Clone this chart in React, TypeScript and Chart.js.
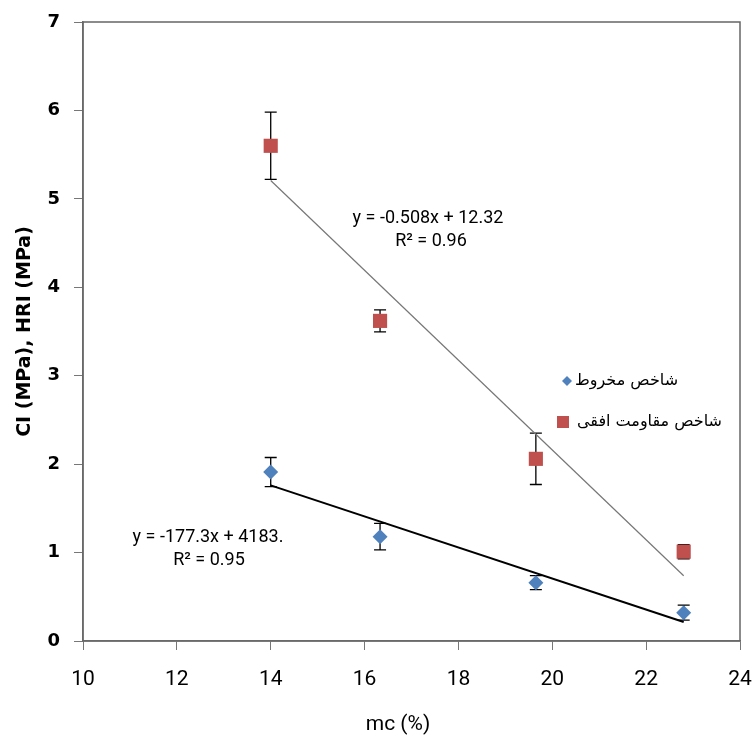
import React, { useEffect, useRef } from "react";
import { Chart, registerables } from "chart.js";

Chart.register(...registerables);

// ---- data ----
const mcValues = [14, 16.33, 19.65, 22.8];
const ciValues = [1.91, 1.18, 0.66, 0.32];
const ciErrors = [0.165, 0.15, 0.08, 0.085];
const hriValues = [5.6, 3.62, 2.06, 1.01];
const hriErrors = [0.38, 0.125, 0.29, 0.08];

const trendX = [14, 22.8];
const hriTrendY = [5.208, 0.738];
const ciTrendY = [1.76, 0.215];

const ciLabel = "شاخص مخروط";
const hriLabel = "شاخص مقاومت افقی";
const hriEquation = ["y = -0.508x + 12.32", "R² = 0.96"];
const ciEquation = ["y = -177.3x + 4183.", "R² = 0.95"];

const xTitle = "mc (%)";
const yTitle = "CI (MPa), HRI (MPa)";

const BLUE = "#4F81BD";
const RED = "#C0504D";
const NARROW = "'Roboto', sans-serif";

const errorBarPlugin = {
  id: "errorBars",
  beforeDatasetsDraw(chart: any) {
    const { ctx, scales } = chart;
    const x = scales.x;
    const y = scales.y;
    const sets = [
      { v: ciValues, e: ciErrors },
      { v: hriValues, e: hriErrors },
    ];
    ctx.save();
    ctx.strokeStyle = "#000";
    ctx.lineWidth = 1.3;
    sets.forEach((s) => {
      mcValues.forEach((mx, i) => {
        const px = x.getPixelForValue(mx);
        const top = y.getPixelForValue(s.v[i] + s.e[i]);
        const bot = y.getPixelForValue(s.v[i] - s.e[i]);
        ctx.beginPath();
        ctx.moveTo(px, top);
        ctx.lineTo(px, bot);
        ctx.moveTo(px - 6, top);
        ctx.lineTo(px + 6, top);
        ctx.moveTo(px - 6, bot);
        ctx.lineTo(px + 6, bot);
        ctx.stroke();
      });
    });
    ctx.restore();
  },
};

const decorPlugin = {
  id: "decor",
  afterDraw(chart: any) {
    const { ctx, chartArea } = chart;
    ctx.save();
    // frame
    ctx.strokeStyle = "#666";
    ctx.lineWidth = 1.5;
    ctx.strokeRect(chartArea.left, chartArea.top, chartArea.right - chartArea.left, chartArea.bottom - chartArea.top);

    // x axis title
    ctx.fillStyle = "#000";
    ctx.font = `21px ${NARROW}`;
    ctx.textAlign = "center";
    ctx.textBaseline = "middle";
    ctx.fillText(xTitle, 398, 725);

    // equations
    ctx.font = `18px ${NARROW}`;
    ctx.fillText(hriEquation[0], 428, 218);
    ctx.fillText(hriEquation[1], 431, 241);
    ctx.fillText(ciEquation[0], 208, 537);
    ctx.fillText(ciEquation[1], 209, 560);

    // legend
    ctx.fillStyle = BLUE;
    ctx.beginPath();
    ctx.moveTo(567, 376);
    ctx.lineTo(572, 381);
    ctx.lineTo(567, 386);
    ctx.lineTo(562, 381);
    ctx.closePath();
    ctx.fill();
    ctx.fillStyle = RED;
    ctx.fillRect(557, 416, 12, 12);

    ctx.fillStyle = "#000";
    ctx.font = "16px 'DejaVu Sans', sans-serif";
    ctx.textAlign = "left";
    ctx.fillText(ciLabel, 575, 381);
    ctx.fillText(hriLabel, 577, 422);
    ctx.restore();
  },
};

export default function App() {
  const ref = useRef<HTMLCanvasElement | null>(null);

  useEffect(() => {
    if (!ref.current) return;
    const chart = new Chart(ref.current, {
      type: "scatter",
      data: {
        datasets: [
          {
            label: hriLabel + " trend",
            data: trendX.map((x, i) => ({ x, y: hriTrendY[i] })),
            showLine: true,
            borderColor: "#777",
            borderWidth: 1.2,
            pointRadius: 0,
            order: 2,
          },
          {
            label: ciLabel + " trend",
            data: trendX.map((x, i) => ({ x, y: ciTrendY[i] })),
            showLine: true,
            borderColor: "#000",
            borderWidth: 2,
            pointRadius: 0,
            order: 2,
          },
          {
            label: ciLabel,
            data: mcValues.map((x, i) => ({ x, y: ciValues[i] })),
            pointStyle: "rectRot",
            pointRadius: 7.5,
            backgroundColor: BLUE,
            borderColor: BLUE,
            borderWidth: 0,
            order: 1,
          },
          {
            label: hriLabel,
            data: mcValues.map((x, i) => ({ x, y: hriValues[i] })),
            pointStyle: "rect",
            pointRadius: 10,
            backgroundColor: RED,
            borderColor: RED,
            borderWidth: 0,
            order: 1,
          },
        ],
      },
      options: {
        animation: false,
        responsive: false,
        layout: { padding: { left: 0, right: 16, top: 22, bottom: 0 } },
        plugins: {
          legend: { display: false },
          tooltip: { enabled: false },
        },
        scales: {
          x: {
            type: "linear",
            min: 10,
            max: 24,
            afterFit: (s: any) => {
              s.height = 97;
              s.paddingLeft = 0;
              s.paddingRight = 0;
            },
            ticks: {
              stepSize: 2,
              padding: 17,
              color: "#000",
              font: { family: NARROW, size: 21 },
            },
            grid: { drawOnChartArea: false, drawTicks: true, tickLength: 9, color: "#777" },
            border: { display: true, color: "#777", width: 1.5 },
            title: { display: false },
          },
          y: {
            type: "linear",
            min: 0,
            max: 7,
            afterFit: (s: any) => {
              s.width = 83;
              s.paddingTop = 0;
              s.paddingBottom = 0;
            },
            ticks: {
              stepSize: 1,
              padding: 14,
              color: "#000",
              font: { family: "'DejaVu Sans', sans-serif", size: 18, weight: "bold" },
            },
            grid: { drawOnChartArea: false, drawTicks: true, tickLength: 9, color: "#777" },
            border: { display: true, color: "#777", width: 1.5 },
            title: {
              display: true,
              text: yTitle,
              color: "#000",
              font: { family: "'DejaVu Sans', sans-serif", size: 19, weight: "bold" },
              padding: { top: 14, bottom: 0 },
            },
          },
        },
      },
      plugins: [errorBarPlugin, decorPlugin],
    } as any);
    return () => chart.destroy();
  }, []);

  return (
    <div style={{ position: "fixed", left: 0, top: 0, width: 756, height: 738, background: "#fff" }}>
      <canvas ref={ref} width={756} height={738} style={{ display: "block" }} />
    </div>
  );
}
